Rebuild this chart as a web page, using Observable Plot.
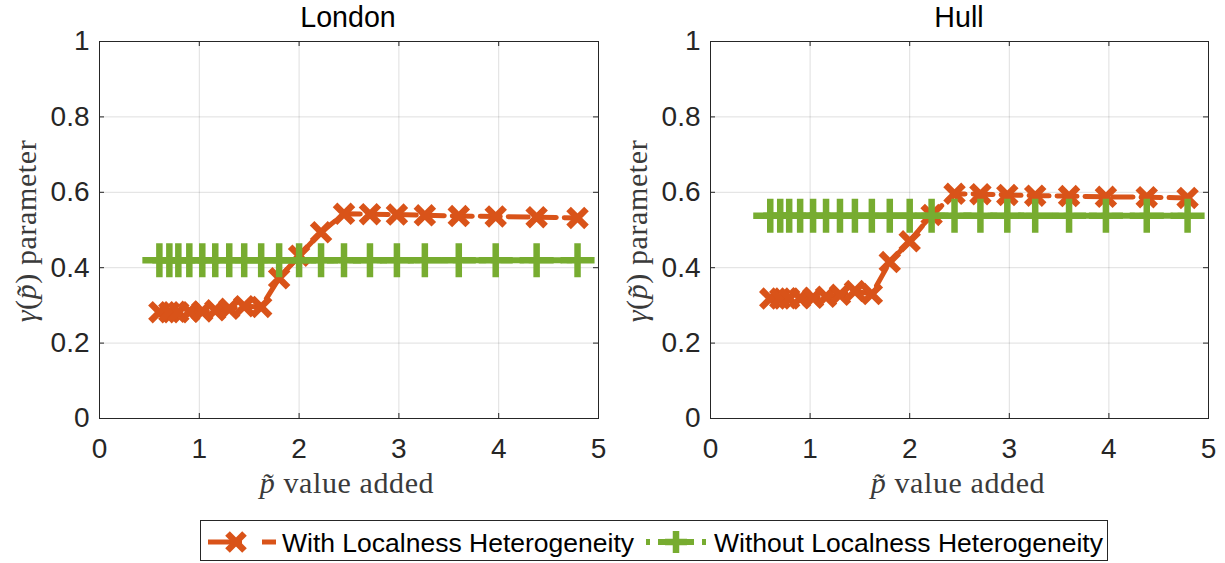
<!DOCTYPE html>
<html>
<head>
<meta charset="utf-8">
<script src="https://cdn.jsdelivr.net/npm/d3@7"></script>
<script src="https://cdn.jsdelivr.net/npm/@observablehq/plot@0.6"></script>
<style>
  body { margin: 0; background: #fff; }
  #wrap { position: relative; width: 1225px; height: 563px; overflow: hidden; background: #fff;
          font-family: "Liberation Sans", Arial, Helvetica, sans-serif; color: #262626; }
  .panel { position: absolute; top: 0; }
  .title { position: absolute; top: 1px; font-size: 28.6px; color: #000; transform: translateX(-50%); white-space: nowrap; }
  .xlabel { position: absolute; top: 468px; line-height: 30px; font-family: "Liberation Serif", "Times New Roman", serif; font-size: 30px;
            letter-spacing: 0.6px; color: #3a3a3a; transform: translateX(-50%); white-space: nowrap; }
  .ylabel { position: absolute; line-height: 30px; font-family: "Liberation Serif", "Times New Roman", serif; font-size: 30px; letter-spacing: 0.6px;
            color: #3a3a3a; white-space: nowrap; transform: translate(-50%, -50%) rotate(-90deg); }
  #legend { position: absolute; left: 200px; top: 520px; }
</style>
</head>
<body>
<div id="wrap">
  <div id="p1" class="panel" style="left:0px"></div>
  <div id="p2" class="panel" style="left:612px"></div>
  <div class="title" style="left:348px">London</div>
  <div class="title" style="left:959px">Hull</div>
  <div class="xlabel" style="left:347px"><i>p̃</i> value added</div>
  <div class="xlabel" style="left:958px"><i>p̃</i> value added</div>
  <div class="ylabel" style="left:26px; top:231px"><i>γ</i>(<i>p̃</i>) parameter</div>
  <div class="ylabel" style="left:637px; top:231px"><i>γ</i>(<i>p̃</i>) parameter</div>
  <div id="legend"></div>
</div>
<script>
// ---- data ----
const pValues = [0.6, 0.7, 0.79, 0.9, 1.03, 1.16, 1.3, 1.45, 1.62, 1.8, 2.0, 2.22, 2.45, 2.71, 2.98, 3.26, 3.6, 3.97, 4.38, 4.79];
const londonWith = [0.282, 0.282, 0.282, 0.283, 0.284, 0.287, 0.291, 0.298, 0.296, 0.372, 0.432, 0.494, 0.543, 0.542, 0.541, 0.539, 0.537, 0.536, 0.534, 0.532];
const londonWithout = [0.42, 0.42, 0.42, 0.42, 0.42, 0.42, 0.42, 0.42, 0.42, 0.42, 0.42, 0.42, 0.42, 0.42, 0.42, 0.42, 0.42, 0.42, 0.42, 0.42];
const hullWith = [0.318, 0.318, 0.318, 0.319, 0.320, 0.323, 0.328, 0.338, 0.330, 0.415, 0.470, 0.540, 0.596, 0.595, 0.593, 0.591, 0.590, 0.588, 0.587, 0.585];
const hullWithout = [0.538, 0.538, 0.538, 0.538, 0.538, 0.538, 0.538, 0.538, 0.538, 0.538, 0.538, 0.538, 0.538, 0.538, 0.538, 0.538, 0.538, 0.538, 0.538, 0.538];
const xTicks = [0, 1, 2, 3, 4, 5];
const yTicks = [0, 0.2, 0.4, 0.6, 0.8, 1];
const seriesNames = ["With Localness Heterogeneity", "Without Localness Heterogeneity"];

const ORANGE = "#D95319";
const GREEN = "#77AC30";
const INK = "#262626";

function panel(withVals, withoutVals, opts) {
  const withData = pValues.map((x, i) => ({x, y: withVals[i]}));
  const withoutData = pValues.map((x, i) => ({x, y: withoutVals[i]}));
  const H = 500, mt = 41, mb = 82;
  const plotH = H - mt - mb;
  const plotW = opts.width - opts.ml - opts.mr;
  const innerX = xTicks.slice(1, -1), innerY = yTicks.slice(1, -1);
  return Plot.plot({
    width: opts.width, height: H,
    marginLeft: opts.ml, marginRight: opts.mr, marginTop: mt, marginBottom: mb,
    style: {fontFamily: '"Liberation Sans", Arial, sans-serif', fontSize: "28px", color: INK, background: "transparent", overflow: "visible"},
    x: {domain: [0, 5], label: null},
    y: {domain: [0, 1], label: null},
    marks: [
      Plot.gridX(innerX, {stroke: INK, strokeOpacity: 0.15, strokeWidth: 1}),
      Plot.gridY(innerY, {stroke: INK, strokeOpacity: 0.15, strokeWidth: 1}),
      Plot.axisX(xTicks, {tickSize: 0, tickPadding: 20, tickFormat: d => String(d), label: null, fontSize: 28}),
      Plot.axisY(yTicks, {tickSize: 0, tickPadding: 10, tickFormat: d => String(d), label: null, fontSize: 28}),
      // inward ticks (MATLAB box style)
      Plot.ruleX(innerX, {x: d => d, insetTop: plotH - 5, stroke: INK}),
      Plot.ruleX(innerX, {x: d => d, insetBottom: plotH - 5, stroke: INK}),
      Plot.ruleY(innerY, {y: d => d, insetRight: plotW - 5, stroke: INK}),
      Plot.ruleY(innerY, {y: d => d, insetLeft: plotW - 5, stroke: INK}),
      Plot.frame({stroke: INK, strokeWidth: 1}),
      Plot.line(withData, {x: "x", y: "y", stroke: ORANGE, strokeWidth: 5, strokeDasharray: "20,8"}),
      Plot.dot(withData, {x: "x", y: "y", symbol: "times", r: 8.2, stroke: ORANGE, strokeWidth: 6.5, fill: "none"}),
      Plot.line(withoutData, {x: "x", y: "y", stroke: GREEN, strokeWidth: 6, strokeDasharray: "22,6,4,6"}),
      Plot.dot(withoutData, {x: "x", y: "y", symbol: "plus", r: 11, stroke: GREEN, strokeWidth: 6.5, fill: "none"})
    ]
  });
}

document.getElementById("p1").appendChild(panel(londonWith, londonWithout, {width: 612, ml: 99, mr: 14}));
document.getElementById("p2").appendChild(panel(hullWith, hullWithout, {width: 613, ml: 98, mr: 17}));

// ---- legend ----
const lw = 908, lh = 41;
const svg = d3.select("#legend").append("svg").attr("width", lw).attr("height", lh)
  .style("font-family", '"Liberation Sans", Arial, sans-serif');
svg.append("rect").attr("x", 0.5).attr("y", 0.5).attr("width", lw - 1).attr("height", lh - 1)
  .attr("fill", "#fff").attr("stroke", INK).attr("stroke-width", 1);
const cy = 22;
// orange item
svg.append("line").attr("x1", 8).attr("x2", 76).attr("y1", cy).attr("y2", cy)
  .attr("stroke", ORANGE).attr("stroke-width", 5).attr("stroke-dasharray", "34,20,20");
const t = 8.5;
svg.append("path").attr("d", `M${36 - t},${cy - t}L${36 + t},${cy + t}M${36 - t},${cy + t}L${36 + t},${cy - t}`)
  .attr("stroke", ORANGE).attr("stroke-width", 6.5).attr("fill", "none");
svg.append("text").attr("x", 82).attr("y", cy).attr("dy", "0.36em").attr("font-size", 26.5).attr("fill", "#000").text(seriesNames[0]);
// green item
svg.append("line").attr("x1", 446).attr("x2", 506).attr("y1", cy).attr("y2", cy)
  .attr("stroke", GREEN).attr("stroke-width", 6).attr("stroke-dasharray", "4,8,36,8,4");
const p = 11;
svg.append("path").attr("d", `M${476 - p},${cy}L${476 + p},${cy}M476,${cy - p}L476,${cy + p}`)
  .attr("stroke", GREEN).attr("stroke-width", 6.5).attr("fill", "none");
svg.append("text").attr("x", 514).attr("y", cy).attr("dy", "0.36em").attr("font-size", 26.5).attr("fill", "#000").text(seriesNames[1]);
</script>
</body>
</html>
